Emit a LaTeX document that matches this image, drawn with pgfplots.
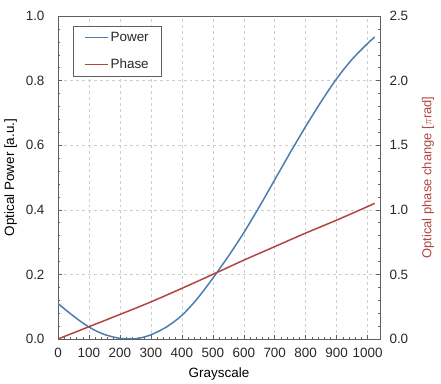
\documentclass[border=0pt]{standalone}
\usepackage{pgfplots}
\pgfplotsset{compat=1.18}
\usepackage{fontspec}
\setmainfont{Liberation Sans}
\definecolor{pblue}{RGB}{74,126,177}
\definecolor{pred}{RGB}{176,70,64}
\definecolor{axgray}{RGB}{95,95,95}
\definecolor{gridgray}{RGB}{205,205,205}
\definecolor{txt}{RGB}{40,40,40}
\pgfplotstableread{
x p
0 0.110
25 0.090
50 0.071
75 0.053
100 0.037
125 0.024
150 0.014
175 0.007
200 0.002
230 0.000
260 0.002
300 0.013
350 0.037
400 0.073
450 0.125
500 0.188
550 0.256
600 0.329
650 0.409
700 0.493
750 0.577
800 0.658
850 0.735
900 0.806
950 0.866
1000 0.915
1023 0.935
}\powertab
\pgfplotstableread{
x f
0 0.000
100 0.095
200 0.190
300 0.287
400 0.392
500 0.500
600 0.610
700 0.715
800 0.820
900 0.920
1000 1.025
1023 1.050
}\phasetab
\begin{document}
\begin{tikzpicture}
\path[use as bounding box] (-58bp,-45bp) rectangle (383bp,339bp);
\pgfplotsset{
  common/.style={
    scale only axis, width=322bp, height=323bp,
    xmin=0, xmax=1040,
    /pgf/number format/assume math mode=true,
    ticklabel style={font=\fontsize{13.5}{16}\selectfont, text=txt},
    label style={font=\fontsize{13.5}{16}\selectfont},
    tick style={axgray, line width=0.5pt},
    major tick length=4pt, minor tick length=2.5pt,
    tick align=inside,
    axis line style={axgray, line width=0.7pt},
  }
}
\begin{axis}[common,
  at={(0,0)}, anchor=south west,
  ymin=0, ymax=1,
  xtick={0,100,...,1000}, minor x tick num=4,
  ytick={0,0.2,...,1.0}, minor y tick num=4,
  xticklabel style={/pgf/number format/set thousands separator={}, yshift=-6bp},
  yticklabel style={/pgf/number format/fixed, /pgf/number format/fixed zerofill, /pgf/number format/precision=1, xshift=-10bp},
  xtick pos=bottom, ytick pos=left,
  grid=major, major grid style={gridgray, dashed, line width=0.5pt},
  xlabel={Grayscale}, ylabel={Optical Power [a.u.]},
  xlabel shift=3bp, ylabel shift=2bp,
  legend style={at={(rel axis cs:0.047,0.969)}, anchor=north west,
    draw=axgray, line width=0.6pt, font=\fontsize{13.5}{16}\selectfont,
    row sep=12pt, inner xsep=11bp, inner ysep=4bp},
  legend cell align=left,
]
\addplot[pblue, line width=1.5pt, smooth,
  legend image code/.code={\pgfsetstrokecolor{pblue}\pgfsetlinewidth{1.5pt}\pgfpathmoveto{\pgfpoint{0cm}{0cm}}\pgfpathlineto{\pgfpoint{0.8cm}{0cm}}\pgfusepath{stroke}}]
  table[x=x,y=p] {\powertab};
\addlegendentry{\textcolor{txt}{Power}}
\addlegendimage{legend image code/.code={\pgfsetstrokecolor{pred}\pgfsetlinewidth{1.5pt}\pgfpathmoveto{\pgfpoint{0cm}{0cm}}\pgfpathlineto{\pgfpoint{0.8cm}{0cm}}\pgfusepath{stroke}}}
\addlegendentry{\textcolor{txt}{Phase}}
\end{axis}
\begin{axis}[common,
  at={(0,0)}, anchor=south west,
  ymin=0, ymax=2.5,
  axis x line=none,
  axis y line*=right,
  ytick={0,0.5,...,2.5}, minor y tick num=4,
  yticklabel style={/pgf/number format/fixed, /pgf/number format/fixed zerofill, /pgf/number format/precision=1, xshift=6bp},
  ylabel={Optical phase change [$\pi$rad]},
  every axis y label/.style={at={(rel axis cs:1,0.5)}, xshift=48bp, rotate=90, anchor=center,
    text=pred, font=\fontsize{13}{16}\selectfont},
]
\addplot[pred, line width=1.5pt, smooth] table[x=x,y=f] {\phasetab};
\end{axis}
\end{tikzpicture}
\end{document}
